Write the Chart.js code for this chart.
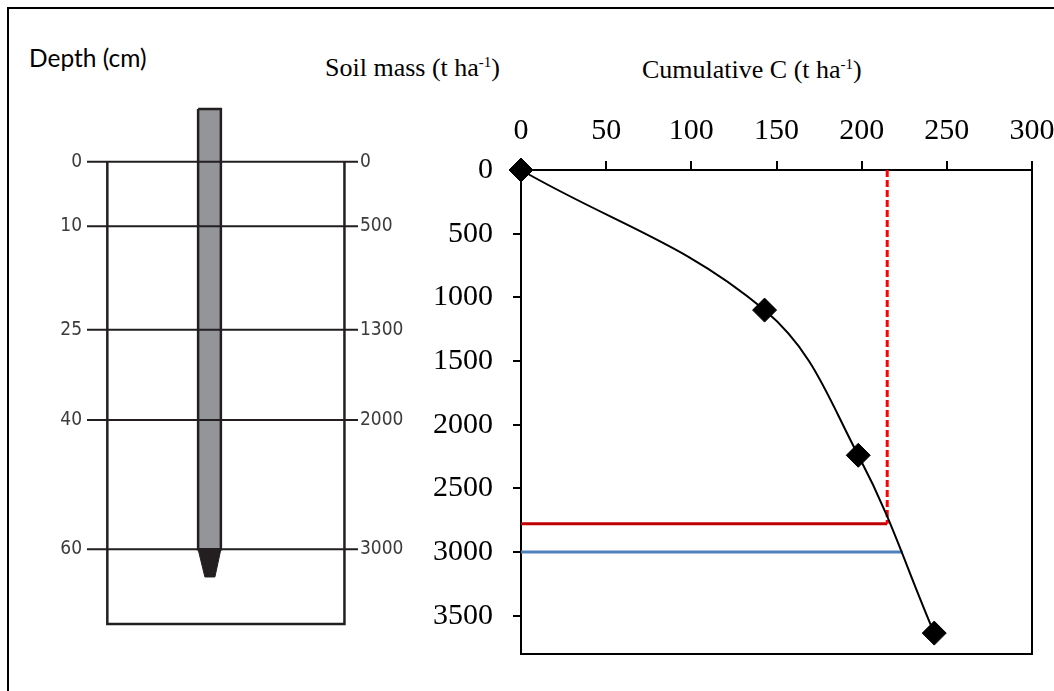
<!DOCTYPE html>
<html>
<head>
<meta charset="utf-8">
<script src="https://cdn.jsdelivr.net/npm/chart.js@4/dist/chart.umd.min.js"></script>
<style>
    body { margin: 0; width: 1054px; height: 691px; overflow: hidden; background: #fff; position: relative; }
    #frame { position: absolute; left: 7px; top: 7px; width: 1200px; height: 1000px; border-top: 2px solid #000; border-left: 2px solid #000; }
    canvas { position: absolute; }
    #diagram { left: 0; top: 90px; }
    #cumulative { left: 400px; top: 100px; }
    .label { position: absolute; white-space: nowrap; line-height: 1; color: #000; }
    .serif { font-family: "Liberation Serif", "Times New Roman", serif; font-size: 26px; }
    .serif sup { font-size: 15px; vertical-align: 9px; line-height: 0; }
    #depth-title { left: 29px; top: 46px; font-family: Lato, "Open Sans", sans-serif; font-size: 24.5px; }
    #mass-title { left: 325px; top: 55px; }
    #c-title { left: 642px; top: 57px; }
</style>
</head>
<body>
<div id="frame"></div>
<div class="label" id="depth-title">Depth (cm)</div>
<div class="label serif" id="mass-title">Soil mass (t ha<sup>-1</sup>)</div>
<div class="label serif" id="c-title">Cumulative C (t ha<sup>-1</sup>)</div>
<canvas id="diagram" width="440" height="550"></canvas>
<canvas id="cumulative" width="654" height="591"></canvas>
<script>
// soil core diagram
const depthCm = [0, 10, 25, 40, 60];
const layerMass = [0, 500, 1300, 2000, 3000];
const boxX = [7.5, 95];
const boxBottom = 3578;
const coreX = [41, 49.4];
const coreTop = -408;
const tipX = [43.5, 47.2];
const tipBottom = 3214;

// cumulative C vs soil mass
const cumulativeC = [0, 143, 198, 242.6];
const soilMass = [0, 1100, 2240, 3636];
const cTicks = [0, 50, 100, 150, 200, 250, 300];
const massTicks = [0, 500, 1000, 1500, 2000, 2500, 3000, 3500];
const redDashC = [215, 215];
const redDashMass = [0, 2778];
const redLineC = [0, 215];
const redLineMass = [2778, 2778];
const blueLineC = [0, 224];
const blueLineMass = [3000, 3000];

const ink = "#231f20";
const toPoints = (xs, ys) => xs.map((x, i) => ({ x: x, y: ys[i] }));

// chart.js pads axes for label overflow, we place the areas by hand
function fixSize(prop, size) {
    return s => {
        s[prop] = size;
        s.paddingTop = s.paddingBottom = s.paddingLeft = s.paddingRight = 0;
    };
}

// layer lines, broken between layers
const layerPoints = [];
layerMass.forEach(m => {
    layerPoints.push({ x: 0, y: m }, { x: 100, y: m }, { x: 100, y: null });
});

const sansNarrow = "'DejaVu Sans Condensed', sans-serif";
const diagramFont = { family: sansNarrow, size: 19 };

new Chart(document.getElementById("diagram"), {
    type: "scatter",
    data: {
        datasets: [
            {
                data: layerPoints,
                showLine: true, spanGaps: false, pointRadius: 0,
                borderColor: ink, borderWidth: 2, order: 0
            },
            {
                data: [
                    { x: boxX[0], y: layerMass[0] },
                    { x: boxX[0], y: boxBottom },
                    { x: boxX[1], y: boxBottom },
                    { x: boxX[1], y: layerMass[0] }
                ],
                showLine: true, pointRadius: 0,
                borderColor: ink, borderWidth: 2.5, order: 0
            },
            {
                data: [
                    { x: coreX[0], y: coreTop },
                    { x: coreX[1], y: coreTop },
                    { x: coreX[1], y: layerMass[4] },
                    { x: coreX[0], y: layerMass[4] },
                    { x: coreX[0], y: coreTop }
                ],
                showLine: true, pointRadius: 0,
                borderColor: ink, borderWidth: 2.5,
                backgroundColor: "#939598", fill: "shape", order: 2
            },
            {
                data: [
                    { x: coreX[0], y: layerMass[4] },
                    { x: coreX[1], y: layerMass[4] },
                    { x: tipX[1], y: tipBottom },
                    { x: tipX[0], y: tipBottom },
                    { x: coreX[0], y: layerMass[4] }
                ],
                showLine: true, pointRadius: 0,
                borderColor: ink, borderWidth: 1,
                backgroundColor: ink, fill: "shape", order: 1
            }
        ]
    },
    options: {
        responsive: false,
        animation: false,
        layout: { padding: { top: 7.1, bottom: 6.7 } },
        plugins: { legend: { display: false }, tooltip: { enabled: false } },
        scales: {
            x: { type: "linear", min: 0, max: 100, display: false },
            y: {
                type: "linear", position: "left", reverse: true, min: -500, max: 3650,
                afterBuildTicks: s => { s.ticks = layerMass.map(v => ({ value: v })); },
                ticks: { callback: (v, i) => String(depthCm[i]), padding: 5, font: diagramFont, color: "#3c3b3d" },
                grid: { display: false, drawTicks: false },
                border: { display: false },
                afterFit: fixSize("width", 87)
            },
            y2: {
                type: "linear", position: "right", reverse: true, min: -500, max: 3650,
                afterBuildTicks: s => { s.ticks = layerMass.map(v => ({ value: v })); },
                ticks: { callback: v => String(v), padding: 2, font: diagramFont, color: "#3c3b3d" },
                grid: { display: false, drawTicks: false },
                border: { display: false },
                afterFit: fixSize("width", 82)
            }
        }
    }
});

const axisFont = { family: "'Liberation Serif', 'Times New Roman', serif", size: 30 };

new Chart(document.getElementById("cumulative"), {
    type: "scatter",
    data: {
        datasets: [
            {
                data: toPoints(cumulativeC, soilMass),
                showLine: true, tension: 0.38, clip: false,
                borderColor: "#000", borderWidth: 2,
                pointStyle: "rectRot", pointRadius: 12,
                pointBackgroundColor: "#000", pointBorderColor: "#000", pointBorderWidth: 1
            },
            {
                data: toPoints(redDashC, redDashMass),
                showLine: true, pointRadius: 0,
                borderColor: "#ff0000", borderWidth: 3, borderDash: [7, 3]
            },
            {
                data: toPoints(redLineC, redLineMass),
                showLine: true, pointRadius: 0,
                borderColor: "#c00000", borderWidth: 3
            },
            {
                data: toPoints(blueLineC, blueLineMass),
                showLine: true, pointRadius: 0,
                borderColor: "#4f81bd", borderWidth: 3
            }
        ]
    },
    options: {
        responsive: false,
        animation: false,
        elements: { line: { capBezierPoints: false } },
        layout: { autoPadding: false, padding: { right: 22, bottom: 37 } },
        plugins: { legend: { display: false }, tooltip: { enabled: false } },
        scales: {
            x: {
                type: "linear", position: "top", min: 0, max: 300,
                afterBuildTicks: s => { s.ticks = cTicks.map(v => ({ value: v })); },
                ticks: { callback: v => String(v), font: axisFont, color: "#000", padding: 12, maxRotation: 0 },
                grid: { drawOnChartArea: false, tickLength: 9, color: "#000", lineWidth: 2 },
                border: { color: "#000", width: 2 },
                afterFit: fixSize("height", 70)
            },
            y: {
                type: "linear", position: "left", reverse: true, min: 0, max: 3800,
                afterBuildTicks: s => { s.ticks = massTicks.map(v => ({ value: v })); },
                ticks: { callback: v => String(v), font: axisFont, color: "#000", padding: 20 },
                grid: { drawOnChartArea: false, tickLength: 8, color: "#000", lineWidth: 2 },
                border: { color: "#000", width: 2 },
                afterFit: fixSize("width", 121)
            },
            x2: {
                type: "linear", position: "bottom", min: 0, max: 300,
                ticks: { display: false },
                grid: { drawOnChartArea: false, drawTicks: false },
                border: { color: "#000", width: 2 },
                afterFit: fixSize("height", 0)
            },
            y2: {
                type: "linear", position: "right", min: 0, max: 3800,
                ticks: { display: false },
                grid: { drawOnChartArea: false, drawTicks: false },
                border: { color: "#000", width: 2 },
                afterFit: fixSize("width", 0)
            }
        }
    }
});
</script>
</body>
</html>
